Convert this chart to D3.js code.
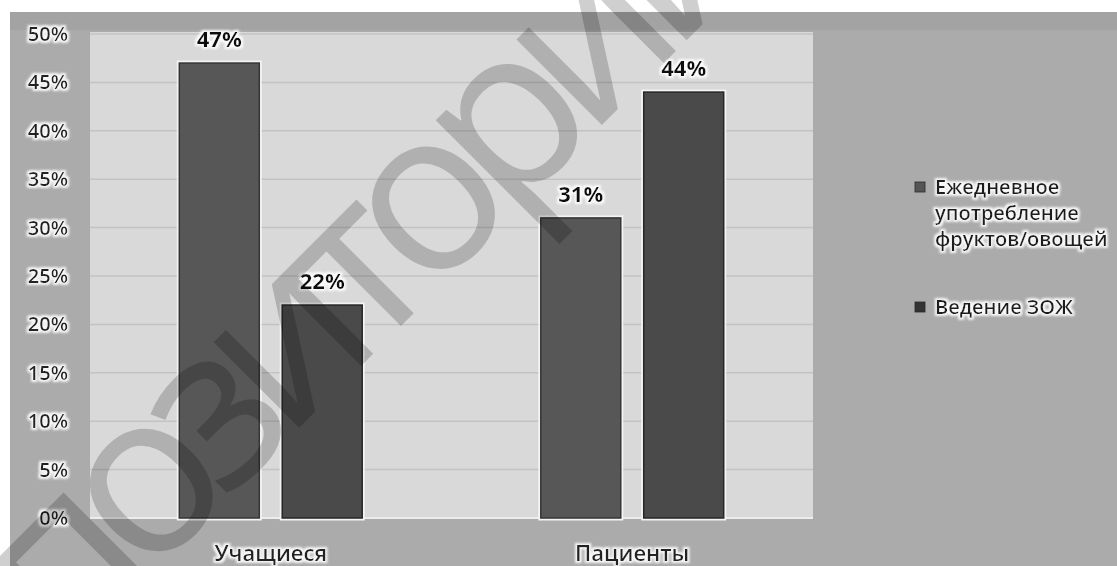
<!DOCTYPE html>
<html>
<head>
<meta charset="utf-8">
<script src="https://cdn.jsdelivr.net/npm/d3@7/dist/d3.min.js"></script>
<style>
  html, body { margin: 0; padding: 0; background: #ffffff; }
  svg { display: block; }
  text { font-family: "Open Sans", "DejaVu Sans", sans-serif; }
</style>
</head>
<body>
<svg id="chart" width="1117" height="566"></svg>
<script>
// Data
const categories = ["Учащиеся", "Пациенты"];
const seriesNames = ["Ежедневное употребление фруктов/овощей", "Ведение ЗОЖ"];
const legendLines = [["Ежедневное", "употребление", "фруктов/овощей"], ["Ведение ЗОЖ"]];
const dailyFruitVeg = [0.47, 0.31];
const healthyLifestyle = [0.22, 0.44];
const yTicks = [0, 0.05, 0.10, 0.15, 0.20, 0.25, 0.30, 0.35, 0.40, 0.45, 0.50];
const watermarkText = "Репозиторий";

const seriesValues = [dailyFruitVeg, healthyLifestyle];
const seriesFill = ["#575757", "#4a4a4a"];
const seriesEdge = ["#353535", "#262626"];

const W = 1117, H = 566;
const plot = { left: 90, right: 813, top: 34, bottom: 518 };

const svg = d3.select("#chart");

// Text halo filter
const defs = svg.append("defs");
const halo = defs.append("filter").attr("id", "halo")
  .attr("x", "-20%").attr("y", "-40%").attr("width", "140%").attr("height", "180%");
halo.append("feMorphology").attr("in", "SourceAlpha").attr("operator", "dilate").attr("radius", 1.6).attr("result", "d");
halo.append("feGaussianBlur").attr("in", "d").attr("stdDeviation", 1.2).attr("result", "b");
halo.append("feFlood").attr("flood-color", "#ffffff").attr("flood-opacity", 0.9).attr("result", "f");
halo.append("feComposite").attr("in", "f").attr("in2", "b").attr("operator", "in").attr("result", "h");
const merge = halo.append("feMerge");
merge.append("feMergeNode").attr("in", "h");
merge.append("feMergeNode").attr("in", "SourceGraphic");

// Chart backgrounds
svg.append("rect").attr("x", 10).attr("y", 12).attr("width", W - 10).attr("height", H - 12).attr("fill", "#ababab");
svg.append("rect").attr("x", 10).attr("y", 12).attr("width", W - 10).attr("height", 18).attr("fill", "#a3a3a3");
svg.append("rect")
  .attr("x", plot.left).attr("y", plot.top - 2)
  .attr("width", plot.right - plot.left).attr("height", plot.bottom - plot.top + 2)
  .attr("fill", "#d9d9d9");

// Scales
const y = d3.scaleLinear().domain([0, 0.5]).range([plot.bottom, plot.top]);
const x0 = d3.scaleBand().domain(categories).range([plot.left, plot.right])
  .paddingInner(0.494).paddingOuter(0.247);
const x1 = d3.scaleBand().domain(d3.range(seriesNames.length)).range([0, x0.bandwidth()])
  .paddingInner(0.223).paddingOuter(0);

// Gridlines
svg.append("g").selectAll("line").data(yTicks.slice(1)).join("line")
  .attr("x1", plot.left).attr("x2", plot.right)
  .attr("y1", d => y(d)).attr("y2", d => y(d))
  .attr("stroke", "#c3c3c3").attr("stroke-width", 1.5);
svg.append("line").attr("x1", plot.left).attr("x2", plot.right)
  .attr("y1", plot.bottom).attr("y2", plot.bottom)
  .attr("stroke", "#ececec").attr("stroke-width", 2);

// Y axis labels
const yAxis = d3.axisLeft(y).tickValues(yTicks).tickFormat(d3.format(".0%")).tickSize(0).tickPadding(0);
const yG = svg.append("g").attr("transform", "translate(68,0)").call(yAxis);
yG.select(".domain").remove();
yG.selectAll("text")
  .attr("font-family", "Open Sans").attr("font-size", 20).attr("font-weight", 600).attr("fill", "#222")
  .attr("filter", "url(#halo)");

// Bars
const bars = [];
categories.forEach((c, i) => {
  seriesValues.forEach((vals, s) => bars.push({ c, s, v: vals[i] }));
});
const barG = svg.append("g");
barG.selectAll("rect.outline").data(bars).join("rect").attr("class", "outline")
  .attr("x", d => x0(d.c) + x1(d.s)).attr("y", d => y(d.v))
  .attr("width", x1.bandwidth()).attr("height", d => y(0) - y(d.v))
  .attr("fill", "none").attr("stroke", "#f4f4f4").attr("stroke-width", 5);
barG.selectAll("rect.bar").data(bars).join("rect").attr("class", "bar")
  .attr("x", d => x0(d.c) + x1(d.s)).attr("y", d => y(d.v))
  .attr("width", x1.bandwidth()).attr("height", d => y(0) - y(d.v))
  .attr("fill", d => seriesFill[d.s]).attr("stroke", d => seriesEdge[d.s]).attr("stroke-width", 1.5);

// Value labels
svg.append("g").selectAll("text").data(bars).join("text")
  .attr("x", d => x0(d.c) + x1(d.s) + x1.bandwidth() / 2)
  .attr("y", d => y(d.v) - 16)
  .attr("text-anchor", "middle")
  .attr("font-size", 22).attr("font-weight", 700).attr("fill", "#111")
  .attr("filter", "url(#halo)")
  .text(d => d3.format(".0%")(d.v));

// Category labels
svg.append("g").selectAll("text").data(categories).join("text")
  .attr("x", d => x0(d) + x0.bandwidth() / 2)
  .attr("y", 561)
  .attr("text-anchor", "middle")
  .attr("font-size", 22).attr("font-weight", 600).attr("fill", "#222")
  .attr("filter", "url(#halo)")
  .text(d => d);

// Legend
const legendTop = [187, 307];
const legendSwatch = ["#555555", "#333333"];
const lg = svg.append("g");
legendLines.forEach((lines, s) => {
  lg.append("rect").attr("x", 915).attr("y", legendTop[s] - 5).attr("width", 10).attr("height", 10)
    .attr("fill", legendSwatch[s]).attr("stroke", "#2a2a2a").attr("stroke-width", 0.8);
  const t = lg.append("text").attr("x", 935).attr("y", legendTop[s] + 7)
    .attr("font-size", 20).attr("font-weight", 600).attr("fill", "#1e1e1e").attr("filter", "url(#halo)");
  lines.forEach((ln, k) => {
    t.append("tspan").attr("x", 935).attr("dy", k === 0 ? 0 : 26).text(ln);
  });
});

// Repository watermark, laid diagonally across the chart
const wmSize = 226;
const wmSpacing = -24;
const probe = svg.append("text").attr("font-size", wmSize)
  .attr("letter-spacing", wmSpacing).text("Реп");
const prefixLen = probe.node().getComputedTextLength();
probe.remove();
svg.append("text")
  .attr("transform", "translate(146,581) rotate(-45)")
  .attr("x", -prefixLen).attr("y", 0)
  .attr("font-size", wmSize)
  .attr("letter-spacing", wmSpacing)
  .attr("fill", "#000").attr("fill-opacity", 0.19)
  .text(watermarkText);
</script>
</body>
</html>
